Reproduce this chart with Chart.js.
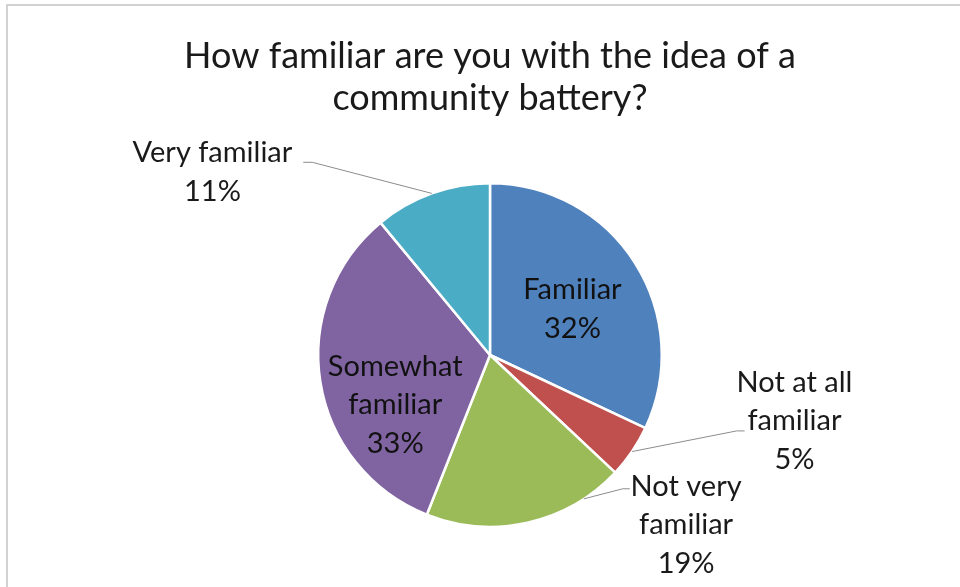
<!DOCTYPE html>
<html>
<head>
<meta charset="utf-8">
<script src="https://cdn.jsdelivr.net/npm/chart.js@4"></script>
<style>
  html, body { margin: 0; padding: 0; background: #fff; }
  #wrap { position: relative; width: 960px; height: 587px; }
</style>
</head>
<body>
<div id="wrap"><canvas id="pie" width="960" height="587"></canvas></div>
<script>
// Survey answers
var categories = ['Familiar', 'Not at all familiar', 'Not very familiar', 'Somewhat familiar', 'Very familiar'];
var shares = [32, 5, 19, 33, 11];
var labelLines = [['Familiar'], ['Not at all', 'familiar'], ['Not very', 'familiar'], ['Somewhat', 'familiar'], ['Very familiar']];
var titleLines = ['How familiar are you with the idea of a', 'community battery?'];

var colors = ['#4F81BD', '#C0504D', '#9BBB59', '#8064A2', '#4BACC6'];

// where each label sits, in pie radii from the centre (x centre, first baseline)
var labelSpots = [
  {x: 0.480, y: -0.326, color: '#111'},
  {x: 1.773, y: 0.215, color: '#1a1a1a', leader: {at: 0.5, elbow: [1.436, 0.442], stub: 8}},
  {x: 1.142, y: 0.820, color: '#1a1a1a', leader: {at: 0.2, elbow: [0.773, 0.779], stub: 7}},
  {x: -0.552, y: 0.122, color: '#111'},
  {x: -1.616, y: -1.122, color: '#1a1a1a', leader: {at: 0.5, elbow: [-1.035, -1.122], stub: -9}}
];
var LINE_GAP = 38.5;
var FONT = 'Lato, "Open Sans", sans-serif';

// thin grey frame on the top and left edges
var framePlugin = {
  id: 'frame',
  beforeDraw: function(chart){
    var c = chart.ctx;
    c.save();
    c.strokeStyle = '#c4c4c4';
    c.lineWidth = 1.5;
    c.beginPath();
    c.moveTo(7, 587);
    c.lineTo(7, 5);
    c.lineTo(960, 5);
    c.stroke();
    c.restore();
  }
};

// data labels with leader lines
var labelPlugin = {
  id: 'sliceLabels',
  afterDatasetsDraw: function(chart){
    var c = chart.ctx;
    var arcs = chart.getDatasetMeta(0).data;
    c.save();
    c.font = '29px ' + FONT;
    c.textAlign = 'center';
    c.textBaseline = 'alphabetic';
    arcs.forEach(function(arc, i){
      var p = arc.getProps(['x', 'y', 'startAngle', 'endAngle', 'outerRadius'], true);
      var r = p.outerRadius;
      var spot = labelSpots[i];
      if(spot.leader){
        var a = p.startAngle + (p.endAngle - p.startAngle) * spot.leader.at;
        var ex = p.x + spot.leader.elbow[0] * r;
        var ey = p.y + spot.leader.elbow[1] * r;
        c.strokeStyle = '#8c8c8c';
        c.lineWidth = 1;
        c.beginPath();
        c.moveTo(p.x + Math.cos(a) * r, p.y + Math.sin(a) * r);
        c.lineTo(ex, ey);
        c.lineTo(ex + spot.leader.stub, ey);
        c.stroke();
      }
      var lines = labelLines[i].concat([shares[i] + '%']);
      c.fillStyle = spot.color;
      lines.forEach(function(t, k){
        c.fillText(t, p.x + spot.x * r, p.y + spot.y * r + k * LINE_GAP);
      });
    });
    c.restore();
  }
};

new Chart(document.getElementById('pie'), {
  type: 'pie',
  data: {
    labels: categories,
    datasets: [{
      data: shares,
      backgroundColor: colors,
      borderColor: '#ffffff',
      borderWidth: 2.5
    }]
  },
  options: {
    responsive: false,
    animation: false,
    layout: { padding: { top: 0, left: 20, right: 0, bottom: 59 } },
    plugins: {
      legend: { display: false },
      tooltip: { enabled: false },
      title: {
        display: true,
        text: titleLines,
        color: '#1a1a1a',
        font: { family: FONT, size: 36, weight: 'normal', lineHeight: 42 / 36 },
        padding: { top: 35, bottom: 63 }
      }
    }
  },
  plugins: [framePlugin, labelPlugin]
});
</script>
</body>
</html>
